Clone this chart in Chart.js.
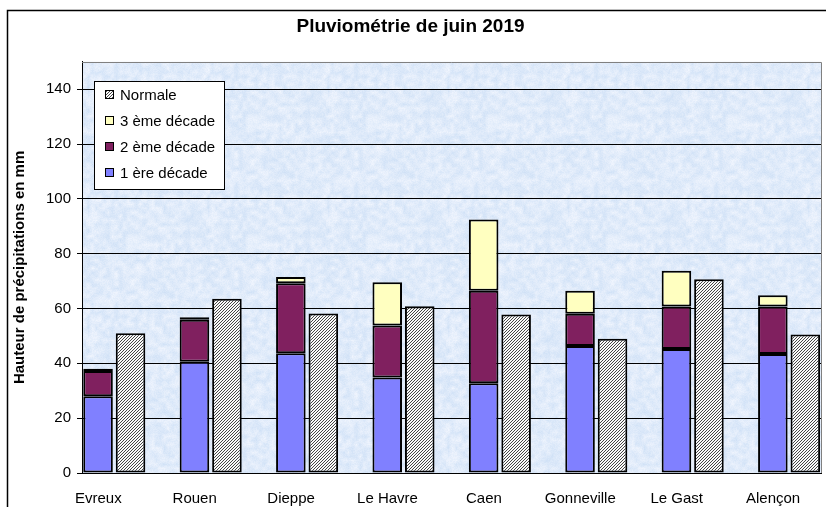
<!DOCTYPE html>
<html>
<head>
<meta charset="utf-8">
<script src="https://cdn.jsdelivr.net/npm/chart.js@4/dist/chart.umd.min.js"></script>
<style>
  html, body { margin: 0; padding: 0; background: #fff; }
  #wrap { width: 826px; height: 507px; }
</style>
</head>
<body>
<div id="wrap"><canvas id="chart" width="826" height="507"></canvas></div>
<script>
// Data (mm)
const stations = ["Evreux", "Rouen", "Dieppe", "Le Havre", "Caen", "Gonneville", "Le Gast", "Alençon"];
const decade1 = [28.0, 40.6, 43.7, 34.8, 32.7, 46.3, 45.2, 43.4];
const decade2 = [9.2, 15.3, 25.5, 19.0, 33.8, 11.8, 15.5, 17.3];
const decade3 = [0.8, 0.9, 2.3, 15.8, 26.0, 8.4, 13.1, 4.1];
const normale = [51.0, 63.6, 58.2, 60.8, 57.8, 49.0, 70.7, 50.5];
const yTicks = [0, 20, 40, 60, 80, 100, 120, 140];

const FONT = "'Liberation Sans', Arial, sans-serif";
const canvas = document.getElementById("chart");
const ctx = canvas.getContext("2d");

// hatch pattern for "Normale" (fine diagonal lines)
function makeHatch() {
    const c = document.createElement("canvas");
    c.width = 3; c.height = 3;
    const g = c.getContext("2d");
    const img = g.createImageData(3, 3);
    for (let y = 0; y < 3; y++) {
        for (let x = 0; x < 3; x++) {
            const on = (x + y) % 3 === 2;
            const k = (y * 3 + x) * 4;
            const v = on ? 70 : 250;
            img.data[k] = v; img.data[k + 1] = v; img.data[k + 2] = v; img.data[k + 3] = 255;
        }
    }
    g.putImageData(img, 0, 0);
    return ctx.createPattern(c, "repeat");
}

// light blue paper texture for the plot area
function makeTexture() {
    const size = 120, cell = 4;
    const c = document.createElement("canvas");
    c.width = size; c.height = size;
    const g = c.getContext("2d");
    const img = g.createImageData(size, size);
    const n = size / cell;
    const hash = (i, j) => {
        const s = Math.sin(((i + n) % n) * 127.1 + ((j + n) % n) * 311.7) * 43758.5453;
        return s - Math.floor(s);
    };
    const fineHash = (x, y) => {
        const s = Math.sin(x * 12.9898 + y * 78.233) * 43758.5453;
        return s - Math.floor(s);
    };
    for (let y = 0; y < size; y++) {
        for (let x = 0; x < size; x++) {
            const gx = x / cell, gy = y / cell;
            const i = Math.floor(gx), j = Math.floor(gy);
            const fx = gx - i, fy = gy - j;
            const a = hash(i, j), b = hash(i + 1, j), c2 = hash(i, j + 1), d = hash(i + 1, j + 1);
            let v = (a * (1 - fx) + b * fx) * (1 - fy) + (c2 * (1 - fx) + d * fx) * fy;
            v = v * 0.7 + fineHash(x, y) * 0.3;
            const k = (y * size + x) * 4;
            img.data[k] = 206 + v * 36;
            img.data[k + 1] = 224 + v * 22;
            img.data[k + 2] = 246 + v * 8;
            img.data[k + 3] = 255;
        }
    }
    g.putImageData(img, 0, 0);
    return ctx.createPattern(c, "repeat");
}

const hatch = makeHatch();
const texture = makeTexture();

const series = [
    { label: "1 ère décade", data: decade1, color: "#8080FF", stack: "obs" },
    { label: "2 ème décade", data: decade2, color: "#80205F", stack: "obs" },
    { label: "3 ème décade", data: decade3, color: "#FFFFC0", stack: "obs" },
    { label: "Normale", data: normale, color: hatch, stack: "norm" }
];

const backgroundPlugin = {
    id: "paper",
    beforeDraw(chart) {
        const c = chart.ctx;
        const a = chart.chartArea;
        c.save();
        c.fillStyle = "#fff";
        c.fillRect(0, 0, chart.width, chart.height);
        // outer frame
        c.strokeStyle = "#000";
        c.lineWidth = 1.5;
        c.beginPath();
        c.moveTo(7.5, chart.height + 2);
        c.lineTo(7.5, 10.5);
        c.lineTo(chart.width + 2, 10.5);
        c.stroke();
        c.fillStyle = texture;
        c.fillRect(a.left, a.top, a.right - a.left, a.bottom - a.top);
        c.restore();
    },
    afterDraw(chart) {
        const c = chart.ctx;
        const a = chart.chartArea;
        c.save();
        // plot frame top / right
        c.strokeStyle = "#808080";
        c.lineWidth = 1;
        c.beginPath();
        c.moveTo(a.left, Math.round(a.top) + 0.5);
        c.lineTo(Math.round(a.right) + 0.5, Math.round(a.top) + 0.5);
        c.lineTo(Math.round(a.right) + 0.5, a.bottom);
        c.stroke();

        // legend box
        c.fillStyle = "#fff";
        c.fillRect(94.5, 81.5, 130, 108);
        c.strokeStyle = "#000";
        c.strokeRect(94.5, 81.5, 130, 108);
        const rows = [series[3], series[2], series[1], series[0]];
        const rowY = [95, 121, 147, 173];
        c.font = "15px " + FONT;
        c.textBaseline = "middle";
        c.textAlign = "left";
        rows.forEach((s, i) => {
            const y = rowY[i];
            c.fillStyle = s.color;
            c.fillRect(105.5, y - 4.5, 8, 8);
            c.strokeStyle = "#000";
            c.strokeRect(105.5, y - 4.5, 8, 8);
            c.fillStyle = "#000";
            c.fillText(s.label, 120, y + 1);
        });
        c.restore();
    }
};

new Chart(ctx, {
    type: "bar",
    data: {
        datasets: series.map(s => ({
            label: s.label,
            data: s.data.map((v, i) => ({ x: i, y: v })),
            backgroundColor: s.color,
            borderColor: "#000",
            borderWidth: 2,
            borderSkipped: false,
            stack: s.stack,
            categoryPercentage: 0.674,
            barPercentage: 0.91
        }))
    },
    options: {
        responsive: false,
        animation: false,
        layout: { padding: { left: 0, right: 5, top: 0, bottom: 0 } },
        plugins: {
            legend: { display: false },
            tooltip: { enabled: false },
            title: {
                display: true,
                text: "Pluviométrie de juin 2019",
                color: "#000",
                font: { family: FONT, size: 19, weight: "bold" },
                padding: { top: 15, bottom: 24 }
            }
        },
        scales: {
            x: {
                type: "linear",
                offset: false,
                min: -0.335,
                max: 7.331,
                grid: { display: false, offset: false },
                border: { display: true, color: "#000", width: 1 },
                afterBuildTicks(scale) {
                    scale.ticks = stations.map((_, i) => ({ value: i }));
                },
                afterFit(scale) { scale.height = 34; },
                ticks: {
                    autoSkip: false,
                    maxRotation: 0,
                    labelOffset: -16,
                    padding: 9,
                    color: "#000",
                    font: { family: FONT, size: 15 },
                    callback: (v) => stations[v]
                }
            },
            y: {
                stacked: true,
                min: 0,
                max: 150,
                afterBuildTicks(scale) {
                    scale.ticks = yTicks.map(v => ({ value: v }));
                },
                afterFit(scale) { scale.width = 82; },
                grid: { color: "#000", lineWidth: 1, tickLength: 5, tickColor: "#000" },
                border: { display: true, color: "#000", width: 1 },
                ticks: {
                    padding: 6,
                    color: "#000",
                    font: { family: FONT, size: 15 }
                },
                title: {
                    display: true,
                    text: "Hauteur de précipitations en mm",
                    color: "#000",
                    font: { family: FONT, size: 15, weight: "bold" },
                    padding: { top: 11, bottom: 0 }
                }
            }
        }
    },
    plugins: [backgroundPlugin]
});
</script>
</body>
</html>
